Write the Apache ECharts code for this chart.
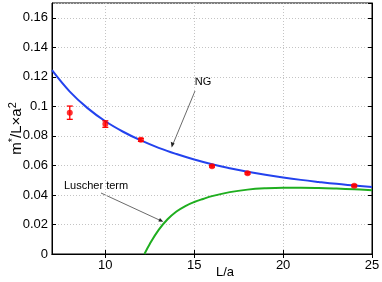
<!DOCTYPE html>
<html><head><meta charset="utf-8">
<script src="https://cdn.jsdelivr.net/npm/echarts@6/dist/echarts.min.js"></script>
<style>html,body{margin:0;padding:0;background:#fff}#c{width:382px;height:282px}</style>
</head><body><div id="c"></div>
<script>
// Data points (L/a, value, error)
var ptL   = [8, 10, 12, 16, 18, 24];
var ptV   = [0.0957, 0.0880, 0.0773, 0.0595, 0.0547, 0.0462];
var ptErr = [0.0045, 0.0022, 0.0010, 0.0006, 0.0006, 0.0007];
// NG curve samples
var ngL = [7, 8, 9, 10, 11, 12, 13, 14, 15, 16, 17, 18, 19, 20, 21, 22, 23, 24, 25];
var ngV = [0.1245, 0.1100, 0.0988, 0.0899, 0.0828, 0.0769, 0.0719, 0.0677, 0.0640, 0.0608, 0.0581, 0.0557, 0.0536, 0.0518, 0.0502, 0.0488, 0.0475, 0.0464, 0.0453];
// Luscher term curve samples
var luL = [12.2, 12.5, 13, 13.5, 14, 14.5, 15, 15.5, 16, 17, 18, 19, 20, 21, 22, 23, 24, 25];
var luV = [0, 0.0068, 0.0163, 0.0235, 0.0288, 0.0325, 0.0352, 0.0373, 0.0392, 0.0419, 0.0436, 0.0445, 0.0449, 0.0449, 0.0447, 0.0443, 0.0438, 0.0432];
var xTicks = [10, 15, 20, 25];

var FONT = 'Liberation Sans';
function zip(a, b) { return a.map(function (v, i) { return [v, b[i]]; }); }
var chart = echarts.init(document.getElementById('c'), null, {renderer: 'canvas'});
var gridLine = {show: true, lineStyle: {color: '#c4c4c4', type: [1, 2], width: 1}};
chart.setOption({
  animation: false,
  grid: {left: 52, right: 10, top: 3, bottom: 28, show: true, borderColor: '#000', borderWidth: 1,
         containLabel: false, outerBoundsMode: 'none'},
  xAxis: [{
    type: 'value', min: 7, max: 25, position: 'bottom',
    axisLine: {show: true, lineStyle: {color: '#000'}},
    axisTick: {show: true, inside: true, length: 4, customValues: xTicks, lineStyle: {color: '#000'}},
    axisLabel: {customValues: xTicks, color: '#000', fontFamily: FONT, fontSize: 13, margin: 5},
    splitLine: gridLine
  }, {
    type: 'value', min: 7, max: 25, position: 'top',
    axisLine: {show: true, lineStyle: {color: '#000'}},
    axisTick: {show: true, inside: true, length: 4, customValues: xTicks, lineStyle: {color: '#000'}},
    axisLabel: {show: false}, splitLine: {show: false}
  }],
  yAxis: [{
    type: 'value', min: 0, max: 0.17, interval: 0.02,
    axisLine: {show: true, lineStyle: {color: '#000'}},
    axisTick: {show: true, inside: true, length: 4, lineStyle: {color: '#000'}},
    axisLabel: {color: '#000', fontFamily: FONT, fontSize: 13, margin: 4, showMaxLabel: false},
    splitLine: gridLine,
    name: '{m|m}{s|*}{m|/L×a}{s|2}', nameLocation: 'middle', nameGap: 25, nameRotate: 90,
    nameMoveOverlap: false,
    nameTextStyle: {
      rich: {
        m: {fontFamily: FONT, fontSize: 15, color: '#000'},
        s: {fontFamily: FONT, fontSize: 11, color: '#000', padding: [0, 0, 9, 0]}
      }
    }
  }, {
    type: 'value', min: 0, max: 0.17, interval: 0.02, position: 'right',
    axisLine: {show: true, lineStyle: {color: '#000'}},
    axisTick: {show: true, inside: true, length: 4, lineStyle: {color: '#000'}},
    axisLabel: {show: false}, splitLine: {show: false}
  }],
  series: [{
    type: 'line', data: zip(ngL, ngV), smooth: 0.4, showSymbol: false,
    lineStyle: {color: '#2342ee', width: 2}, z: 3
  }, {
    type: 'line', data: zip(luL, luV), smooth: 0.4, showSymbol: false,
    lineStyle: {color: '#1fae1f', width: 2}, z: 3
  }, {
    type: 'custom', z: 4,
    data: ptL.map(function (l, i) { return [l, ptV[i] - ptErr[i], ptV[i] + ptErr[i]]; }),
    renderItem: function (params, api) {
      var lo = api.coord([api.value(0), api.value(1)]);
      var hi = api.coord([api.value(0), api.value(2)]);
      var cw = 3;
      var st = {stroke: '#ff0000', lineWidth: 1.3};
      return {type: 'group', children: [
        {type: 'line', shape: {x1: lo[0], y1: lo[1], x2: hi[0], y2: hi[1]}, style: st},
        {type: 'line', shape: {x1: lo[0] - cw, y1: lo[1], x2: lo[0] + cw, y2: lo[1]}, style: st},
        {type: 'line', shape: {x1: hi[0] - cw, y1: hi[1], x2: hi[0] + cw, y2: hi[1]}, style: st}
      ]};
    }
  }, {
    type: 'scatter', data: zip(ptL, ptV), symbol: 'circle', symbolSize: 6,
    itemStyle: {color: '#ff0000'}, z: 5
  }],
  graphic: [
    {type: 'text', x: 225, y: 272, style: {text: 'L/a', font: '13px "Liberation Sans"', fill: '#000', align: 'center', verticalAlign: 'middle'}},
    {type: 'text', x: 203, y: 82, style: {text: 'NG', font: '11px "Liberation Sans"', fill: '#000', align: 'center', verticalAlign: 'middle'}},
    {type: 'text', x: 64, y: 186, style: {text: 'Luscher term', font: '11px "Liberation Sans"', fill: '#000', align: 'left', verticalAlign: 'middle'}},
    {type: 'line', shape: {x1: 195, y1: 91, x2: 173, y2: 144}, style: {stroke: '#444', lineWidth: 0.8}},
    {type: 'polygon', shape: {points: [[171.7, 147.5], [170.8, 141.8], [174.6, 143.4]]}, style: {fill: '#222'}},
    {type: 'line', shape: {x1: 101, y1: 193, x2: 160, y2: 220.3}, style: {stroke: '#444', lineWidth: 0.8}},
    {type: 'polygon', shape: {points: [[163.3, 221.7], [158.3, 221.6], [160.0, 217.9]]}, style: {fill: '#222'}}
  ]
});
</script></body></html>
